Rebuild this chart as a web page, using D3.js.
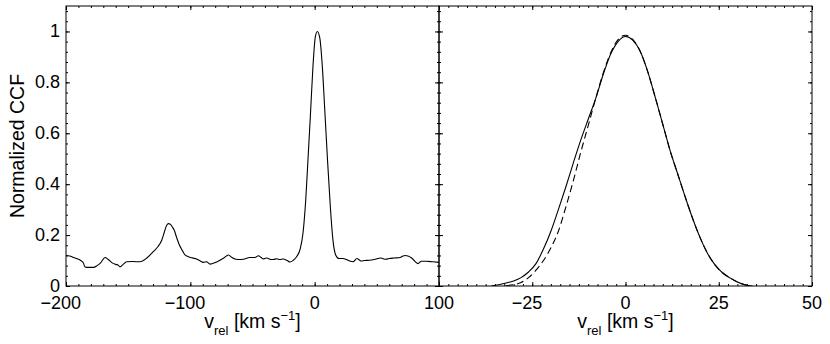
<!DOCTYPE html>
<html><head><meta charset="utf-8">
<script src="https://cdn.jsdelivr.net/npm/d3@7"></script>
<style>
body{margin:0;background:#fff}
svg{display:block}
text{font-family:"Liberation Sans",Arial,Helvetica,sans-serif;fill:#000}
</style>
</head><body>
<script>
// ---- data ----
const leftVel = [-200,-197,-194,-191,-188.7,-186,-184.7,-182,-178,-175,-172,-168.6,-166,-163.2,-160,-158,-156.6,-154,-151.2,-146,-140.5,-135,-129.8,-126,-123,-121,-119,-117.5,-116,-114.5,-113,-111,-108.8,-106.5,-104.3,-100,-94.9,-92,-89.5,-87,-84.2,-80,-77.5,-73,-69.4,-66.5,-64,-60,-57.4,-52.3,-48,-45.3,-43,-41.3,-39,-37.3,-35,-33.2,-30.5,-28,-25.6,-22,-19.9,-17,-14.7,-11.5,-9.4,-7.2,-5.4,-3.5,-1.4,0.5,2.1,4.0,6.2,8.0,10.2,12.6,14.7,16.9,19.6,22.8,25.5,28.2,30.9,34,36,37.5,40,44,48,53.3,57,60,64,68.7,71,73,75,78,81,83.1,85.8,90,95,100];
const leftCCF = [0.120,0.118,0.112,0.107,0.102,0.090,0.075,0.073,0.073,0.080,0.092,0.112,0.104,0.092,0.085,0.082,0.075,0.085,0.095,0.096,0.095,0.110,0.135,0.155,0.180,0.210,0.239,0.245,0.242,0.232,0.220,0.190,0.161,0.140,0.122,0.112,0.106,0.098,0.093,0.095,0.086,0.092,0.098,0.110,0.122,0.112,0.106,0.104,0.105,0.112,0.112,0.119,0.112,0.106,0.110,0.108,0.104,0.104,0.107,0.104,0.106,0.100,0.094,0.102,0.114,0.148,0.207,0.337,0.494,0.664,0.860,0.978,1.000,0.978,0.860,0.703,0.507,0.311,0.180,0.122,0.108,0.108,0.104,0.098,0.095,0.108,0.102,0.098,0.100,0.101,0.104,0.110,0.105,0.108,0.110,0.112,0.118,0.120,0.118,0.110,0.095,0.088,0.097,0.097,0.095,0.093];

const obsVel = [-36,-34,-32,-30,-28,-26,-24,-22,-20,-18,-16,-14,-12,-10,-8,-6,-4,-2,0,2,4,6,8,10,12,14,16,18,20,22,24,26,28,30,32,34];
const obsCCF = [0.000,0.005,0.012,0.020,0.033,0.055,0.088,0.145,0.215,0.300,0.389,0.483,0.573,0.655,0.736,0.830,0.910,0.960,0.980,0.965,0.920,0.840,0.740,0.635,0.530,0.440,0.350,0.265,0.190,0.128,0.083,0.052,0.032,0.016,0.005,0.000];

const fitVel = [-32,-30,-28,-26,-24,-22,-20,-18,-16,-14,-12,-10,-8,-6,-4,-2,0,2,4,6,8,10,12,14,16,18,20,22,24,26,28,30,32,34];
const fitCCF = [0.002,0.005,0.014,0.033,0.062,0.100,0.150,0.215,0.310,0.413,0.525,0.630,0.736,0.835,0.915,0.968,0.985,0.968,0.920,0.840,0.740,0.635,0.530,0.440,0.350,0.265,0.190,0.128,0.083,0.052,0.032,0.016,0.005,0.000];

const leftXTicks = [-200,-100,0,100];
const leftXLabels = ["\u2212200","\u2212100","0","100"];
const rightXTicks = [-25,0,25,50];
const rightXLabels = ["\u221225","0","25","50"];
const yTicks = [0,0.2,0.4,0.6,0.8,1];
const yLabels = ["0","0.2","0.4","0.6","0.8","1"];
const yTitle = "Normalized CCF";

// ---- layout ----
const W = 830, H = 344;
const T = 6, B = 286, X0 = 66, XM = 439, X1 = 812;

const svg = d3.select("body").append("svg").attr("width", W).attr("height", H);

const y = d3.scaleLinear().domain([0, 1.1]).range([B, T]);
const xL = d3.scaleLinear().domain([-200, 100]).range([X0, XM]);
const xR = d3.scaleLinear().domain([-50, 50]).range([XM, X1]);

const MAJ = 4, MIN = 2;

function mkTicks(g, axis, tr, vals, size) {
  const a = g.append("g").attr("transform", tr)
    .call(axis.tickValues(vals).tickSize(size).tickSizeOuter(0).tickFormat(""));
  a.select(".domain").remove();
  a.selectAll("line").attr("stroke", "#000").attr("stroke-width", 1);
}
function ticksFor(g, x, majors, minors) {
  mkTicks(g, d3.axisBottom(x), `translate(0,${B})`, minors, -MIN);
  mkTicks(g, d3.axisBottom(x), `translate(0,${B})`, majors, -MAJ);
  mkTicks(g, d3.axisTop(x), `translate(0,${T})`, minors, -MIN);
  mkTicks(g, d3.axisTop(x), `translate(0,${T})`, majors, -MAJ);
}
function yTicksFor(g, xl, xr) {
  const minors = d3.range(0, 1.1001, 0.04);
  mkTicks(g, d3.axisLeft(y), `translate(${xl},0)`, minors, -MIN);
  mkTicks(g, d3.axisLeft(y), `translate(${xl},0)`, yTicks, -MAJ);
  mkTicks(g, d3.axisRight(y), `translate(${xr},0)`, minors, -MIN);
  mkTicks(g, d3.axisRight(y), `translate(${xr},0)`, yTicks, -MAJ);
}

// clip paths
const defs = svg.append("defs");
defs.append("clipPath").attr("id", "cl").append("rect").attr("x", X0).attr("y", T).attr("width", XM - X0).attr("height", B - T);
defs.append("clipPath").attr("id", "cr").append("rect").attr("x", XM).attr("y", T).attr("width", X1 - XM).attr("height", B - T);

const gL = svg.append("g");
const gR = svg.append("g");

ticksFor(gL, xL, leftXTicks.concat([-200]), d3.range(-200, 100.1, 10));
yTicksFor(gL, X0, XM);
ticksFor(gR, xR, [-50].concat(rightXTicks), d3.range(-50, 50.1, 2.5));
yTicksFor(gR, XM, X1);

// curves
const lineL = d3.line().x((d, i) => xL(leftVel[i])).y(d => y(d)).curve(d3.curveMonotoneX);
gL.append("path").attr("clip-path", "url(#cl)").attr("d", lineL(leftCCF))
  .attr("fill", "none").attr("stroke", "#000").attr("stroke-width", 1.1);

const lineObs = d3.line().x((d, i) => xR(obsVel[i])).y(d => y(d)).curve(d3.curveMonotoneX);
const lineFit = d3.line().x((d, i) => xR(fitVel[i])).y(d => y(d)).curve(d3.curveMonotoneX);
gR.append("path").attr("clip-path", "url(#cr)").attr("d", lineFit(fitCCF))
  .attr("fill", "none").attr("stroke", "#000").attr("stroke-width", 1.1).attr("stroke-dasharray", "7,4");
gR.append("path").attr("clip-path", "url(#cr)").attr("d", lineObs(obsCCF))
  .attr("fill", "none").attr("stroke", "#000").attr("stroke-width", 1.1);

// frames
[[X0, XM], [XM, X1]].forEach(([a, b]) => {
  svg.append("rect").attr("x", a).attr("y", T).attr("width", b - a).attr("height", B - T)
    .attr("fill", "none").attr("stroke", "#000").attr("stroke-width", 1);
});

// measure minus width
const meas = svg.append("text").attr("font-size", 18).text("\u2212");
const minusW = meas.node().getComputedTextLength();
meas.remove();

function xLabels(x, vals, labels) {
  svg.append("g").selectAll("text").data(vals).join("text")
    .attr("x", (d, i) => x(d) - (labels[i].startsWith("\u2212") ? minusW / 2 : 0))
    .attr("y", 308.5)
    .attr("text-anchor", "middle").attr("font-size", 18)
    .text((d, i) => labels[i]);
}
xLabels(xL, leftXTicks, leftXLabels);
xLabels(xR, rightXTicks, rightXLabels);

svg.append("g").selectAll("text").data(yTicks).join("text")
  .attr("x", X0 - 6).attr("y", d => y(d)).attr("dy", "0.33em")
  .attr("text-anchor", "end").attr("font-size", 18)
  .text((d, i) => yLabels[i]);

// axis titles
function xTitle(cx) {
  const t = svg.append("text").attr("x", cx).attr("y", 328).attr("text-anchor", "middle").attr("font-size", 19.5);
  t.append("tspan").text("v");
  t.append("tspan").attr("font-size", 13).attr("dy", 7).text("rel");
  t.append("tspan").attr("dy", -7).text(" [km s");
  t.append("tspan").attr("font-size", 13).attr("dy", -8).text("\u22121");
  t.append("tspan").attr("dy", 8).text("]");
}
xTitle((X0 + XM) / 2);
xTitle((XM + X1) / 2);

svg.append("text").attr("transform", `translate(23.5,${(T + B) / 2}) rotate(-90)`)
  .attr("text-anchor", "middle").attr("font-size", 19.5).text(yTitle);
</script>
</body></html>
